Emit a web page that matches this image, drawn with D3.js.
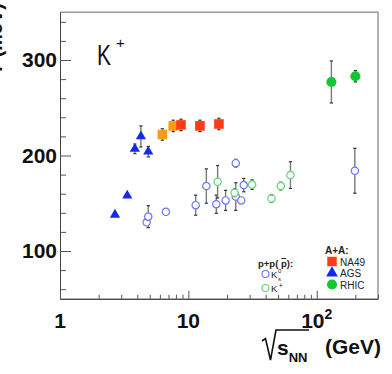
<!DOCTYPE html>
<html>
<head>
<meta charset="utf-8">
<script src="https://cdn.jsdelivr.net/npm/d3@7"></script>
<style>
  body { margin: 0; background: #fff; }
  svg text { font-family: "Liberation Sans", Arial, sans-serif; }
</style>
</head>
<body>
<svg id="chart" width="392" height="374"></svg>
<script>
// AGS Au+Au (kaon slope T vs sqrt(s_NN))
const agsSqrts = [2.68, 3.34, 3.83, 4.27, 4.87];
const agsT = [138, 158, 207, 220, 204];
const agsErr = [0, 0, 5, 11, 5.5];

// NA49 Pb+Pb, 20A and 30A GeV drawn orange
const na49LowSqrts = [6.27, 7.62];
const na49LowT = [222, 231];
const na49LowErr = [6, 6];
const na49Sqrts = [8.76, 12.3, 17.3];
const na49T = [232, 231, 233];
const na49Err = [6, 6, 6];

// RHIC Au+Au
const rhicSqrts = [130, 200];
const rhicT = [277, 283];
const rhicErr = [22, 6];

// p+p(pbar) K0s
const ppK0Sqrts = [4.73, 4.87, 6.68, 11.4, 13.8, 16.5, 19.5, 23.4, 23.4, 25.8, 27.0, 198];
const ppK0T = [130, 136, 141, 148, 168, 149, 153, 192, 157, 153, 169, 184];
const ppK0Err = [0, 11.5, 0, 10.5, 18, 9.5, 10.5, 4, 14.5, 3, 7, 23.5];

// p+p K+
const ppKpSqrts = [16.9, 22.9, 31.4, 44.4, 52.5, 62.4];
const ppKpT = [172.5, 161, 169.5, 155, 168, 179.5];
const ppKpErr = [17, 4, 5, 4, 4, 14];

// ticks
const yMajor = [100, 200, 300];
const yMinor = [60, 80, 120, 140, 160, 180, 220, 240, 260, 280, 320, 340];
const xMajor = [1, 10, 100];
const xMinor = [2, 3, 4, 5, 6, 7, 8, 9, 20, 30, 40, 50, 60, 70, 80, 90, 200, 300];
const xTickLabels = ["1", "10", "10"];
const xTickExp = ["", "", "2"];

const svg = d3.select("#chart");
const x = d3.scaleLog().domain([1, 300]).range([60, 378]);
const y = d3.scaleLinear().domain([50, 350]).range([298.75, 12.25]);

// top / right frame
svg.append("path")
    .attr("d", `M${x(1)},${y(350)}H${x(300)}V${y(50)}`)
    .attr("fill", "none")
    .attr("stroke", "#9a9a9a")
    .attr("stroke-width", 1.5);

const styleAxis = g => {
    g.select(".domain").attr("stroke", "#444");
    g.selectAll(".tick line").attr("stroke", "#555");
};

// y axis
svg.append("g")
    .attr("transform", `translate(${x(1)},0)`)
    .call(d3.axisLeft(y).tickValues(yMinor).tickSize(-6).tickSizeOuter(0).tickFormat(""))
    .call(styleAxis);
svg.append("g")
    .attr("transform", `translate(${x(1)},0)`)
    .call(d3.axisLeft(y).tickValues(yMajor).tickSize(-11).tickSizeOuter(0).tickPadding(3))
    .call(styleAxis)
    .call(g => g.selectAll("text")
        .attr("font-size", 21)
        .attr("font-weight", "bold")
        .attr("fill", "#111"));

// x axis
svg.append("g")
    .attr("transform", `translate(0,${y(50)})`)
    .call(d3.axisBottom(x).tickValues(xMinor).tickSize(-4).tickSizeOuter(0).tickFormat(""))
    .call(styleAxis);
svg.append("g")
    .attr("transform", `translate(0,${y(50)})`)
    .call(d3.axisBottom(x).tickValues(xMajor).tickSize(-8).tickSizeOuter(0).tickFormat(""))
    .call(styleAxis);

const xLab = svg.selectAll("text.xlab")
    .data(xMajor)
    .join("text")
    .attr("class", "xlab")
    .attr("x", d => x(d))
    .attr("y", 328)
    .attr("text-anchor", "middle")
    .attr("font-size", 21)
    .attr("font-weight", "bold")
    .attr("fill", "#111");
xLab.append("tspan").text((d, i) => xTickLabels[i]);
xLab.append("tspan")
    .attr("dy", -9)
    .attr("font-size", 14)
    .text((d, i) => xTickExp[i]);

// axis titles
svg.append("path")
    .attr("d", "M262,341 L265.5,338.5 L270.5,360 L276,330 H309")
    .attr("fill", "none")
    .attr("stroke", "#111")
    .attr("stroke-width", 1.6);
const xTitle = svg.append("text")
    .attr("x", 277)
    .attr("y", 355)
    .attr("font-size", 21)
    .attr("font-weight", "bold")
    .attr("fill", "#111");
xTitle.append("tspan").text("s");
xTitle.append("tspan").attr("dy", 7).attr("font-size", 13).text("NN");
xTitle.append("tspan").attr("x", 325).attr("y", 354).text("(GeV)");

// y title runs off the left edge, as in the original
svg.append("text")
    .attr("transform", "translate(2,3) rotate(-90)")
    .attr("text-anchor", "end")
    .attr("font-size", 20)
    .attr("font-weight", "bold")
    .attr("fill", "#111")
    .text("T (MeV)");

// K+ label
svg.append("text")
    .attr("x", 97).attr("y", 65)
    .attr("font-size", 30)
    .attr("textLength", 14)
    .attr("lengthAdjust", "spacingAndGlyphs")
    .attr("fill", "#111")
    .text("K");
svg.append("text")
    .attr("x", 116).attr("y", 48)
    .attr("font-size", 15)
    .attr("fill", "#111")
    .text("+");

// data series
const series = [
    { xs: ppK0Sqrts, ys: ppK0T, es: ppK0Err, symbol: d3.symbolCircle, size: 42, fill: "#fff", stroke: "#6b73ff" },
    { xs: ppKpSqrts, ys: ppKpT, es: ppKpErr, symbol: d3.symbolCircle, size: 42, fill: "#fff", stroke: "#5fd67a" },
    { xs: agsSqrts, ys: agsT, es: agsErr, symbol: d3.symbolTriangle, size: 45, fill: "#1428f0", stroke: "none" },
    { xs: na49LowSqrts, ys: na49LowT, es: na49LowErr, symbol: d3.symbolSquare, size: 92, fill: "#ff9a14", stroke: "none" },
    { xs: na49Sqrts, ys: na49T, es: na49Err, symbol: d3.symbolSquare, size: 92, fill: "#ff3c14", stroke: "none" },
    { xs: rhicSqrts, ys: rhicT, es: rhicErr, symbol: d3.symbolCircle, size: 80, fill: "#10c834", stroke: "none" }
];

series.forEach(s => {
    const pts = s.xs.map((v, i) => ({ sx: v, t: s.ys[i], e: s.es[i] }));
    const g = svg.append("g");
    const eb = g.selectAll("g.err")
        .data(pts.filter(d => d.e > 0))
        .join("g")
        .attr("class", "err");
    eb.append("line")
        .attr("x1", d => x(d.sx)).attr("x2", d => x(d.sx))
        .attr("y1", d => y(d.t - d.e)).attr("y2", d => y(d.t + d.e))
        .attr("stroke", "#7a7a7a")
        .attr("stroke-width", 1.4);
    [-1, 1].forEach(k => {
        eb.append("line")
            .attr("x1", d => x(d.sx) - 1.6).attr("x2", d => x(d.sx) + 1.6)
            .attr("y1", d => y(d.t + k * d.e)).attr("y2", d => y(d.t + k * d.e))
            .attr("stroke", "#333")
            .attr("stroke-width", 1.2);
    });
    g.selectAll("path.mk")
        .data(pts)
        .join("path")
        .attr("class", "mk")
        .attr("transform", d => `translate(${x(d.sx)},${y(d.t)})`)
        .attr("d", d3.symbol(s.symbol, s.size))
        .attr("fill", s.fill)
        .attr("stroke", s.stroke)
        .attr("stroke-width", 1.2);
});

// legend
const txt = (xx, yy, size, bold) => svg.append("text")
    .attr("x", xx).attr("y", yy)
    .attr("font-size", size)
    .attr("font-weight", bold ? "bold" : "normal")
    .attr("fill", "#222");

const ppHead = txt(258, 266.5, 9.5, true).text("p+p( p):");
// bar over the antiproton p
const pStart = ppHead.node().getSubStringLength(0, 5);
const pWidth = ppHead.node().getSubStringLength(5, 1);
svg.append("line")
    .attr("x1", 258 + pStart + 0.5).attr("x2", 258 + pStart + pWidth - 0.5)
    .attr("y1", 258.5).attr("y2", 258.5)
    .attr("stroke", "#222")
    .attr("stroke-width", 1);
txt(325, 254, 10, true).text("A+A:");

const aaLabels = ["NA49", "AGS", "RHIC"];
const aaSymbols = [d3.symbolSquare, d3.symbolTriangle, d3.symbolCircle];
const aaSizes = [90, 60, 80];
const aaColors = ["#ff3c14", "#1428f0", "#10c834"];
aaLabels.forEach((lab, i) => {
    const ly = 261.5 + i * 11.5;
    svg.append("path")
        .attr("transform", `translate(332,${ly})`)
        .attr("d", d3.symbol(aaSymbols[i], aaSizes[i]))
        .attr("fill", aaColors[i]);
    txt(340, ly + 4, 10, false).text(lab);
});

const ppColors = ["#6b73ff", "#5fd67a"];
ppColors.forEach((c, i) => {
    const ly = 274 + i * 14;
    svg.append("circle")
        .attr("cx", 265.5).attr("cy", ly).attr("r", 3.5)
        .attr("fill", "#fff").attr("stroke", c).attr("stroke-width", 1.1);
});
const k0 = txt(271, 278, 9.5, false);
k0.append("tspan").text("K");
k0.append("tspan").attr("x", 278).attr("y", 273).attr("font-size", 6).text("0");
k0.append("tspan").attr("x", 278).attr("y", 281).attr("font-size", 6).text("s");
const kp = txt(271, 292, 9.5, false);
kp.append("tspan").text("K");
kp.append("tspan").attr("dx", 1.5).attr("dy", -4).attr("font-size", 7).text("+");
</script>
</body>
</html>
